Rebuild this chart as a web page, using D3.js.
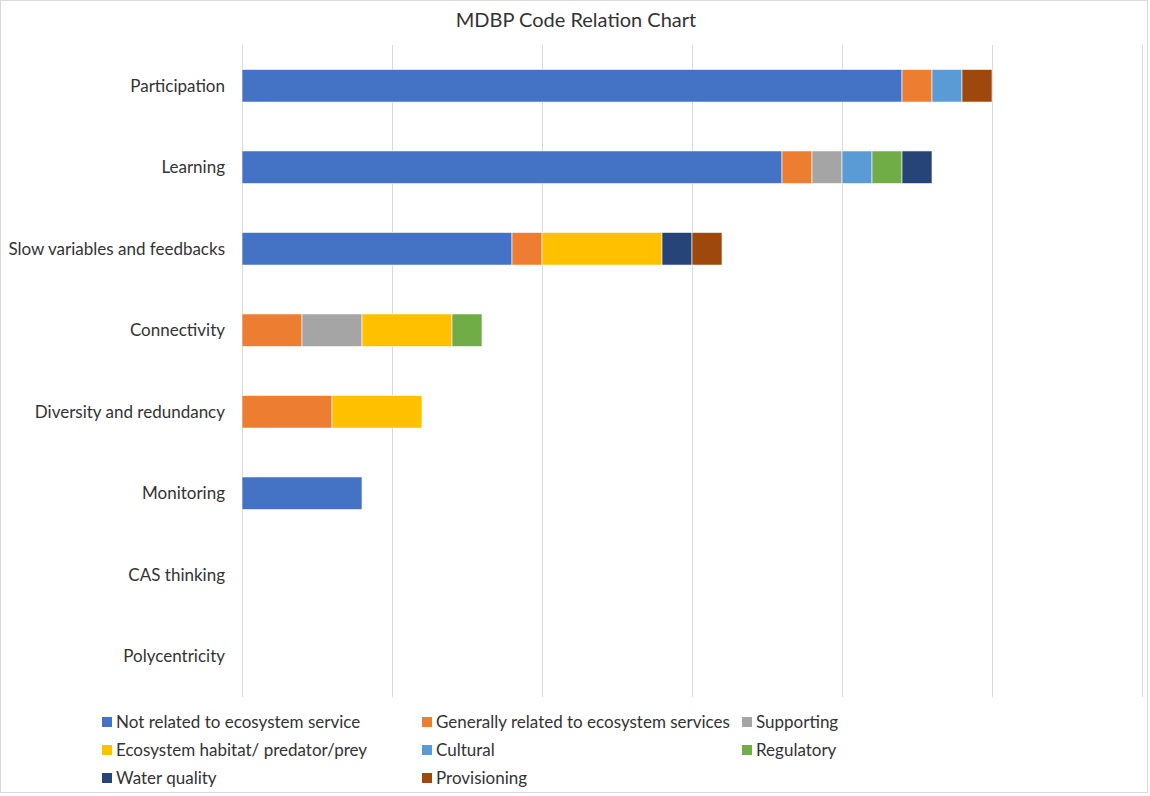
<!DOCTYPE html>
<html>
<head>
<meta charset="utf-8">
<script src="https://cdn.jsdelivr.net/npm/d3@7"></script>
<style>
  body { margin: 0; background: white; }
  text { font-family: Lato, "Open Sans", sans-serif; fill: #333333; }
</style>
</head>
<body>
<div id="vis"></div>
<script>
// data
let categories = ["Participation", "Learning", "Slow variables and feedbacks", "Connectivity",
  "Diversity and redundancy", "Monitoring", "CAS thinking", "Polycentricity"];
let seriesNames = ["Not related to ecosystem service", "Generally related to ecosystem services",
  "Supporting", "Ecosystem habitat/ predator/prey", "Cultural", "Regulatory", "Water quality", "Provisioning"];
let seriesColors = ["#4472c4", "#ed7d31", "#a5a5a5", "#ffc000", "#5b9bd5", "#70ad47", "#264478", "#9e480e"];

let notRelated = [22, 18, 9, 0, 0, 4, 0, 0];
let generally  = [1, 1, 1, 2, 3, 0, 0, 0];
let supporting = [0, 1, 0, 2, 0, 0, 0, 0];
let habitat    = [0, 0, 4, 3, 3, 0, 0, 0];
let cultural   = [1, 1, 0, 0, 0, 0, 0, 0];
let regulatory = [0, 1, 0, 1, 0, 0, 0, 0];
let water      = [0, 1, 1, 0, 0, 0, 0, 0];
let provision  = [1, 0, 1, 0, 0, 0, 0, 0];
let xTicks = [0, 5, 10, 15, 20, 25, 30];

let series = [notRelated, generally, supporting, habitat, cultural, regulatory, water, provision];

let W = 1150, H = 796;

let svg = d3.select('#vis').append('svg')
  .attr('width', W).attr('height', H);

// outer border
svg.append('rect')
  .attr('x', 0.5).attr('y', 0.5).attr('width', W - 3).attr('height', H - 4)
  .attr('fill', 'white').attr('stroke', '#d9d9d9');

svg.append('text')
  .attr('x', 576).attr('y', 27)
  .attr('text-anchor', 'middle')
  .style('font-size', '20px')
  .text('MDBP Code Relation Chart');

let x = d3.scaleLinear().domain([0, 30]).range([242, 1142]);
let y = d3.scaleBand().domain(categories).range([45, 697]).paddingInner(0.6).paddingOuter(0.3);

// gridlines
svg.append('g').selectAll('line')
  .data(xTicks).join('line')
  .attr('x1', d => x(d) + 0.5).attr('x2', d => x(d) + 0.5)
  .attr('y1', 45).attr('y2', 697)
  .attr('stroke', '#d9d9d9').attr('stroke-width', 1);

// stacked data
let rows = categories.map((c, i) => {
  let o = { cat: c };
  seriesNames.forEach((s, j) => o[s] = series[j][i]);
  return o;
});
let stacked = d3.stack().keys(seriesNames)(rows);

svg.append('g').selectAll('g')
  .data(stacked).join('g')
  .attr('fill', (d, i) => seriesColors[i])
  .selectAll('rect')
  .data(d => d.filter(v => v[1] > v[0]))
  .join('rect')
  .attr('x', d => x(d[0]))
  .attr('width', d => x(d[1]) - x(d[0]))
  .attr('y', d => y(d.data.cat))
  .attr('height', y.bandwidth())
  .attr('stroke', 'white').attr('stroke-width', 0.6);

// category labels
svg.append('g').selectAll('text')
  .data(categories).join('text')
  .attr('x', 225)
  .attr('y', d => y(d) + y.bandwidth() / 2)
  .attr('dy', '0.35em')
  .attr('text-anchor', 'end')
  .style('font-size', '17px')
  .text(d => d);

// legend
let legend = svg.append('g').selectAll('g')
  .data(seriesNames).join('g')
  .attr('transform', (d, i) => `translate(${102 + (i % 3) * 320}, ${722 + Math.floor(i / 3) * 28})`);

legend.append('rect')
  .attr('x', 0).attr('y', -5).attr('width', 10).attr('height', 10)
  .attr('fill', (d, i) => seriesColors[i]);

legend.append('text')
  .attr('x', 14).attr('dy', '0.35em')
  .style('font-size', '17px')
  .text(d => d);
</script>
</body>
</html>
